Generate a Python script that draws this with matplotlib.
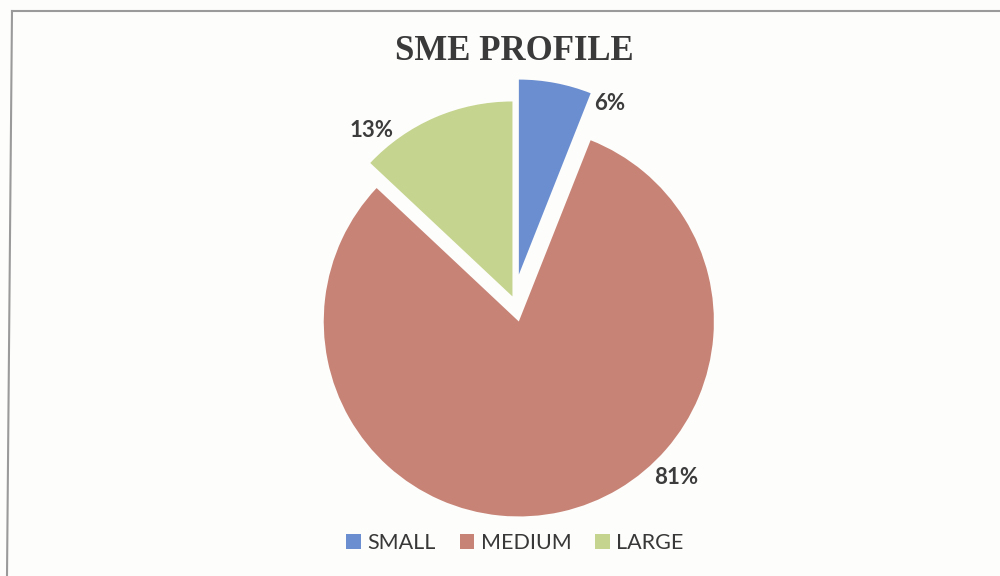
import matplotlib
matplotlib.use("Agg")
import matplotlib.pyplot as plt
from matplotlib.lines import Line2D
from matplotlib.patches import Patch

# Company size breakdown
categories = ["SMALL", "MEDIUM", "LARGE"]
shares = [6, 81, 13]
colors = ["#6b8ed0", "#c78376", "#c5d48e"]
explode = [0.133, 0.113, 0.02]
label_pos = [(0.492, 1.010), (0.831, -0.908), (-0.728, 0.872)]

fig = plt.figure(figsize=(10, 5.76), dpi=100, facecolor="#fdfdfb")

# Axes sized so one data unit equals the pie radius in pixels on both axes
ax = fig.add_axes([214 / 1000, 6 / 576, 600 / 1000, 540 / 576])
ax.set_facecolor("none")
wedges, _ = ax.pie(
    shares,
    colors=colors,
    explode=explode,
    startangle=90,
    counterclock=False,
    radius=1.0,
    wedgeprops=dict(linewidth=0),
)
ax.set_aspect("auto")
ax.set_xlim(-1.538, 1.538)
ax.set_ylim(-1.385, 1.385)
ax.axis("off")

for (x, y), v in zip(label_pos, shares):
    ax.text(x, y, f"{v}%", ha="center", va="center", fontsize=16,
            fontweight="bold", color="#3c3c3c", family="Lato")

fig.text(0.514, 1 - 52 / 576, "SME PROFILE", ha="center", va="center",
         fontsize=25, fontweight="bold", color="#3a3a3a",
         family="Liberation Serif")

handles = [Patch(facecolor=c, edgecolor="none", label=n)
           for c, n in zip(colors, categories)]
fig.legend(handles=handles, loc="center", bbox_to_anchor=(0.515, 1 - 543 / 576),
           ncol=3, frameon=False, handlelength=0.68, handleheight=0.68,
           handletextpad=0.3, columnspacing=1.1,
           prop=dict(family="Lato", size=15.5), labelcolor="#383838")

# Chart border along the top and left sides
fig.add_artist(Line2D([12 / 1000, 1.0], [1 - 11 / 576, 1 - 11 / 576],
                      transform=fig.transFigure, color="#9a9a9a", lw=1.5))
fig.add_artist(Line2D([12 / 1000, 7 / 1000], [1 - 11 / 576, 0.0],
                      transform=fig.transFigure, color="#9a9a9a", lw=1.5))

fig.savefig("out.png", dpi=100, facecolor=fig.get_facecolor())
